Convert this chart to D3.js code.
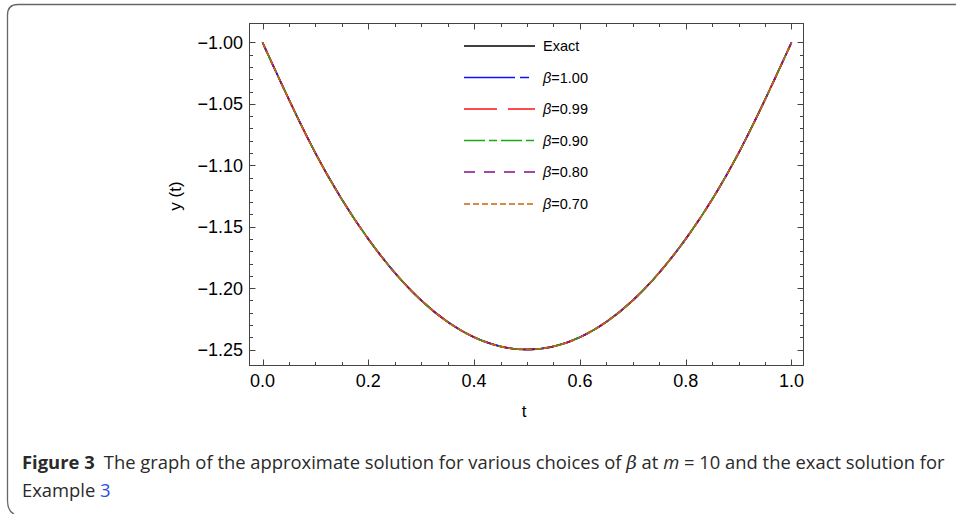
<!DOCTYPE html>
<html>
<head>
<meta charset="utf-8">
<script src="https://cdn.jsdelivr.net/npm/d3@7"></script>
<style>
  body { margin: 0; background: #fff; }
  svg { display: block; }
</style>
</head>
<body>
<svg id="chart" width="956" height="514"></svg>
<script>
/*
 Data
*/
var tValues = [0, 0.1, 0.2, 0.3, 0.4, 0.5, 0.6, 0.7, 0.8, 0.9, 1.0];
var exactValues = [-1.00, -1.09, -1.16, -1.21, -1.24, -1.25, -1.24, -1.21, -1.16, -1.09, -1.00];
var beta100 = [-1.00, -1.09, -1.16, -1.21, -1.24, -1.25, -1.24, -1.21, -1.16, -1.09, -1.00];
var beta099 = [-1.00, -1.09, -1.16, -1.21, -1.24, -1.25, -1.24, -1.21, -1.16, -1.09, -1.00];
var beta090 = [-1.00, -1.09, -1.16, -1.21, -1.24, -1.25, -1.24, -1.21, -1.16, -1.09, -1.00];
var beta080 = [-1.00, -1.09, -1.16, -1.21, -1.24, -1.25, -1.24, -1.21, -1.16, -1.09, -1.00];
var beta070 = [-1.00, -1.09, -1.16, -1.21, -1.24, -1.25, -1.24, -1.21, -1.16, -1.09, -1.00];
var xTicks = [0, 0.2, 0.4, 0.6, 0.8, 1.0];
var yTicks = [-1.00, -1.05, -1.10, -1.15, -1.20, -1.25];
var seriesNames = ["Exact", "1.00", "0.99", "0.90", "0.80", "0.70"];

// styles for each series (same order as seriesNames)
var seriesStyle = [
    { color: "#000000", dash: null },
    { color: "#1010ff", dash: "51,5,9,8" },
    { color: "#ff1010", dash: "33,11" },
    { color: "#1aa81a", dash: "21,4,8,4" },
    { color: "#8b0a8b", dash: "11,9" },
    { color: "#c8660a", dash: "6,3" }
];
var seriesValues = [exactValues, beta100, beta099, beta090, beta080, beta070];

var svg = d3.select("#chart");
var font = "'Liberation Sans', Arial, sans-serif";

/* outer figure border (rounded, open at right/bottom) */
svg.append("path")
    .attr("d", "M956,4.5 H18 Q7.5,4.5 7.5,15 V500 Q7.5,511 14,514")
    .attr("fill", "none")
    .attr("stroke", "#666")
    .attr("stroke-width", 1.3);

/* scales */
var x = d3.scaleLinear().domain([-0.0246, 1.0227]).range([249.5, 803.5]);
var y = d3.scaleLinear().domain([-0.98453, -1.2630]).range([23.5, 365.5]);

// frame
svg.append("rect")
    .attr("x", 249.5).attr("y", 23.5)
    .attr("width", 554).attr("height", 342)
    .attr("fill", "none")
    .attr("stroke", "#444")
    .attr("stroke-width", 1);

var minorX = d3.range(0, 1.0001, 0.05);
var minorY = d3.range(-1.25, -0.9999, 0.01);

function isMajor(v, step) {
    return Math.abs(v / step - Math.round(v / step)) < 1e-6;
}

var ticksG = svg.append("g").attr("stroke", "#444").attr("stroke-width", 1);
minorX.forEach(function (v) {
    var len = isMajor(v, 0.2) ? 6 : 3.5;
    var px = Math.round(x(v)) + 0.5;
    ticksG.append("line").attr("x1", px).attr("x2", px).attr("y1", 365.5).attr("y2", 365.5 - len);
    ticksG.append("line").attr("x1", px).attr("x2", px).attr("y1", 23.5).attr("y2", 23.5 + len);
});
minorY.forEach(function (v) {
    var len = isMajor(v, 0.05) ? 6 : 3.5;
    var py = Math.round(y(v)) + 0.5;
    ticksG.append("line").attr("y1", py).attr("y2", py).attr("x1", 249.5).attr("x2", 249.5 + len);
    ticksG.append("line").attr("y1", py).attr("y2", py).attr("x1", 803.5).attr("x2", 803.5 - len);
});

// tick labels
svg.append("g").selectAll("text")
    .data(xTicks).enter().append("text")
    .attr("x", function (d) { return x(d); })
    .attr("y", 387)
    .attr("text-anchor", "middle")
    .attr("font-family", font)
    .attr("font-size", 18)
    .text(function (d) { return d.toFixed(1); });

svg.append("g").selectAll("text")
    .data(yTicks).enter().append("text")
    .attr("x", 243)
    .attr("y", function (d) { return y(d) + 6.5; })
    .attr("text-anchor", "end")
    .attr("font-family", font)
    .attr("font-size", 18)
    .text(function (d) { return "\u2212" + Math.abs(d).toFixed(2); });

// axis titles
svg.append("text")
    .attr("x", 524).attr("y", 417)
    .attr("text-anchor", "middle")
    .attr("font-family", font).attr("font-size", 17)
    .text("t");
svg.append("text")
    .attr("transform", "translate(181,196) rotate(-90)")
    .attr("text-anchor", "middle")
    .attr("font-family", font).attr("font-size", 17)
    .text("y (t)");

/* curves */
var line = d3.line()
    .x(function (d) { return x(d[0]); })
    .y(function (d) { return y(d[1]); })
    .curve(d3.curveNatural);

seriesValues.forEach(function (vals, i) {
    var pts = tValues.map(function (t, k) { return [t, vals[k]]; });
    svg.append("path")
        .attr("d", line(pts))
        .attr("fill", "none")
        .attr("stroke", seriesStyle[i].color)
        .attr("stroke-width", 1.6)
        .attr("stroke-dasharray", seriesStyle[i].dash);
});

/* legend */
var legY = [46, 77.5, 109, 140.5, 172, 204];
seriesNames.forEach(function (name, i) {
    svg.append("line")
        .attr("x1", 464).attr("x2", 535)
        .attr("y1", legY[i]).attr("y2", legY[i])
        .attr("stroke", seriesStyle[i].color)
        .attr("stroke-width", 1.7)
        .attr("stroke-dasharray", seriesStyle[i].dash);
    var t = svg.append("text")
        .attr("x", 543).attr("y", legY[i] + 5)
        .attr("font-family", font).attr("font-size", 14.5);
    if (i === 0) {
        t.text(name);
    } else {
        t.append("tspan").attr("font-style", "italic").text("\u03b2");
        t.append("tspan").text("=" + name);
    }
});

/* caption */
var capFont = "'Open Sans', 'Noto Sans', sans-serif";
var cap1 = svg.append("text")
    .attr("x", 0).attr("y", 0)
    .attr("font-family", capFont).attr("font-size", 18.5).attr("fill", "#2a2a2a");
cap1.append("tspan").attr("font-weight", "bold").text("Figure 3");
cap1.append("tspan").text("\u2002The graph of the approximate solution for various choices of ");
cap1.append("tspan").attr("font-style", "italic").attr("font-family", "'DejaVu Serif', serif").text("\u03b2");
cap1.append("tspan").text(" at ");
cap1.append("tspan").attr("font-style", "italic").text("m");
cap1.append("tspan").text(" = 10 and the exact solution for");
var w1 = cap1.node().getComputedTextLength();
cap1.attr("transform", "translate(22,469) scale(" + (923 / w1) + ",1)");

var cap2 = svg.append("text")
    .attr("x", 0).attr("y", 0)
    .attr("font-family", capFont).attr("font-size", 18.5).attr("fill", "#2a2a2a");
cap2.append("tspan").text("Example ");
cap2.append("tspan").attr("fill", "#2b4fe0").text("3");
cap2.attr("transform", "translate(22,497) scale(" + (923 / w1) + ",1)");
</script>
</body>
</html>
